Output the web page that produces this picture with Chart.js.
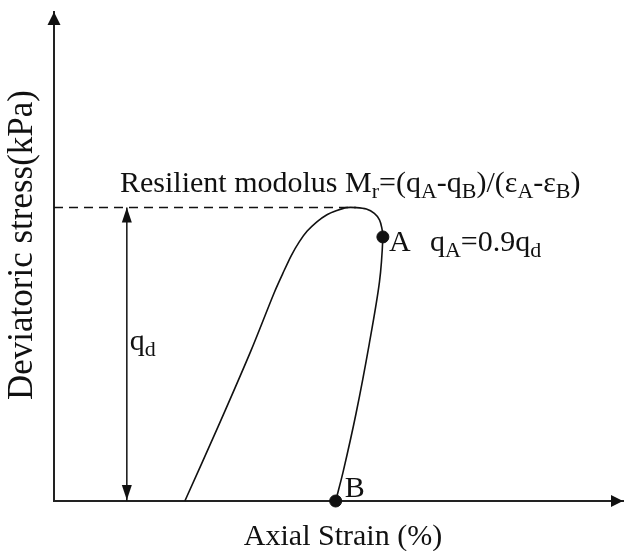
<!DOCTYPE html>
<html>
<head>
<meta charset="utf-8">
<script src="https://cdn.jsdelivr.net/npm/chart.js@4.4.1/dist/chart.umd.min.js"></script>
<style>
  html,body{margin:0;padding:0;background:#fff;}
  canvas{display:block;}
</style>
</head>
<body>
<canvas id="chart" width="630" height="551"></canvas>
<script>
// LOOP (loading up to the peak, unloading through A down to B)
const strain=[2.30,2.88,3.46,3.87,4.02,4.17,4.31,4.45,4.62,4.79,4.97,5.14,5.31,5.49,5.63,5.72,5.76,5.78,5.72,5.54,5.31,5.08,4.95];
const stress=[0,15.1,30.7,42.6,46.5,50.2,53.0,55.2,57.1,58.5,59.4,60,60,59.7,58.8,57.5,55.9,54,44.8,32.1,18.0,5.9,0];

// MARKED POINTS
const pointNames=["A","B"];
const pointStrain=[5.78,4.95];
const pointStress=[54,0];

// PEAK STRESS q_d
const qd=60;
const qdLineEnd=5.31;
const qdArrowX=1.28;

// AXIS RANGES
const xRange=[0,10];
const yRange=[0,100];

const FONT="'Liberation Serif','Times New Roman',serif";
const INK="#111";

// draws a run of text where some pieces are subscripts
function drawRich(ctx,x,y,parts,size,subSize){
  ctx.textBaseline="alphabetic";
  ctx.textAlign="left";
  parts.forEach(p=>{
    let sub=p[1];
    ctx.font=(sub?subSize:size)+"px "+FONT;
    ctx.fillText(p[0],x,sub?y+6:y);
    x+=ctx.measureText(p[0]).width;
  });
}

function arrowHead(ctx,tx,ty,dir,len,half){
  // dir: "up","down","right"
  ctx.beginPath();
  ctx.moveTo(tx,ty);
  if(dir==="up"){ctx.lineTo(tx-half,ty+len);ctx.lineTo(tx+half,ty+len);}
  if(dir==="down"){ctx.lineTo(tx-half,ty-len);ctx.lineTo(tx+half,ty-len);}
  if(dir==="right"){ctx.lineTo(tx-len,ty-half);ctx.lineTo(tx-len,ty+half);}
  ctx.closePath();
  ctx.fill();
}

// ARROWS + TEXT
const extras={
  id:"extras",
  afterDatasetsDraw(c){
    let ctx=c.ctx, a=c.chartArea, xs=c.scales.x, ys=c.scales.y;
    ctx.save();
    ctx.fillStyle=INK;

    // axis arrows
    arrowHead(ctx,a.left,a.top,"up",13,6.5);
    arrowHead(ctx,a.right,a.bottom,"right",12,6);

    // q_d double arrow heads
    let ax=xs.getPixelForValue(qdArrowX);
    let yTop=ys.getPixelForValue(qd), yBot=ys.getPixelForValue(0);
    arrowHead(ctx,ax,yTop,"up",15,5);
    arrowHead(ctx,ax,yBot-1,"down",15,5);

    // axis titles
    ctx.font="35px "+FONT;
    ctx.textAlign="center";
    ctx.textBaseline="middle";
    ctx.save();
    ctx.translate(23,245);
    ctx.rotate(-Math.PI/2);
    ctx.fillText("Deviatoric stress(kPa)",0,0);
    ctx.restore();

    ctx.font="30px "+FONT;
    ctx.textBaseline="alphabetic";
    ctx.fillText("Axial Strain (%)",343,545);

    // formula
    drawRich(ctx,120,192,[
      ["Resilient modolus M",0],["r",1],["=(q",0],["A",1],["-q",0],["B",1],
      [")/(ε",0],["A",1],["-ε",0],["B",1],[")",0]
    ],30,22);

    // q_d label
    let mid=(yTop+yBot)/2;
    drawRich(ctx,ax+3,mid-4,[["q",0],["d",1]],30,22);

    // point labels
    let pa=[xs.getPixelForValue(pointStrain[0]),ys.getPixelForValue(pointStress[0])];
    let pb=[xs.getPixelForValue(pointStrain[1]),ys.getPixelForValue(pointStress[1])];
    drawRich(ctx,pa[0]+6,pa[1]+14,[[pointNames[0],0]],30,22);
    drawRich(ctx,pa[0]+47,pa[1]+14,[["q",0],["A",1],["=0.9q",0],["d",1]],30,22);
    drawRich(ctx,pb[0]+9,pb[1]-4,[[pointNames[1],0]],30,22);

    ctx.restore();
  }
};

new Chart(document.getElementById("chart"),{
  type:"scatter",
  data:{
    datasets:[
      {
        data:strain.map((x,i)=>({x,y:stress[i]})),
        showLine:true,
        tension:0.3,
        borderColor:INK,
        borderWidth:1.6,
        pointRadius:0,
        clip:false
      },
      {
        data:[{x:0,y:qd},{x:qdLineEnd,y:qd}],
        showLine:true,
        borderColor:INK,
        borderWidth:1.5,
        borderDash:[9,6],
        pointRadius:0
      },
      {
        data:[{x:qdArrowX,y:0},{x:qdArrowX,y:qd}],
        showLine:true,
        borderColor:INK,
        borderWidth:1.5,
        pointRadius:0
      },
      {
        data:pointStrain.map((x,i)=>({x,y:pointStress[i]})),
        pointRadius:6,
        backgroundColor:INK,
        borderColor:INK,
        clip:false
      }
    ]
  },
  options:{
    responsive:false,
    animation:false,
    layout:{padding:{left:54,top:12,right:0,bottom:50}},
    plugins:{legend:{display:false},tooltip:{enabled:false}},
    scales:{
      x:{
        type:"linear",min:xRange[0],max:xRange[1],
        grid:{display:false},
        ticks:{display:false},
        border:{color:"#222",width:2},
        afterFit(s){s.height=0;}
      },
      y:{
        type:"linear",min:yRange[0],max:yRange[1],
        grid:{display:false},
        ticks:{display:false},
        border:{color:"#222",width:2},
        afterFit(s){s.width=0;}
      }
    }
  },
  plugins:[extras]
});
</script>
</body>
</html>
